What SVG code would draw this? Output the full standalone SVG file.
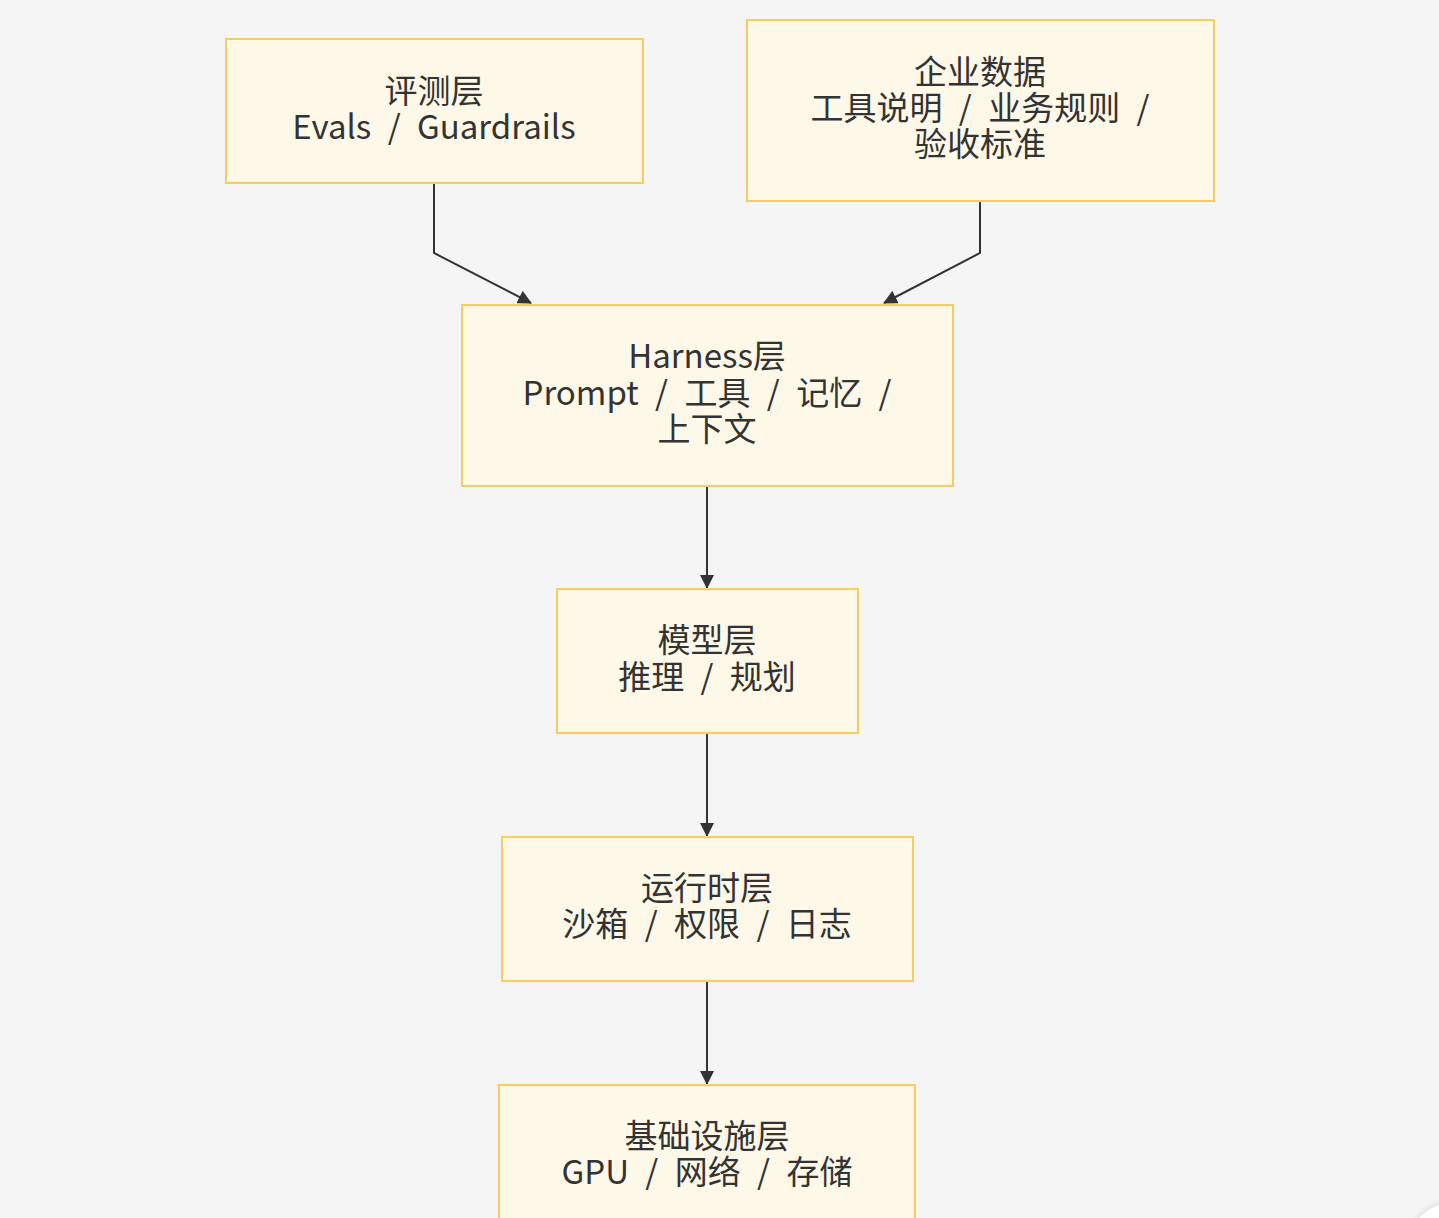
<svg xmlns="http://www.w3.org/2000/svg" width="1439" height="1218" viewBox="0 0 1439 1218">
<defs>
<style>
.node rect{fill:#fef8e8;stroke:#f6cd5e;stroke-width:2}
.node text{font-family:"Noto Sans CJK SC","Noto Sans",sans-serif;font-size:33px;word-spacing:9px;fill:#333;text-anchor:middle;dominant-baseline:central}
.edge{fill:none;stroke:#333;stroke-width:2}
</style>
<marker id="arr" viewBox="0 0 14 14" refX="13" refY="7" markerWidth="14" markerHeight="14" markerUnits="userSpaceOnUse" orient="auto">
<path d="M0,0 L14,7 L0,14 Z" fill="#333"/>
</marker>
<filter id="sh" x="-50%" y="-50%" width="200%" height="200%"><feDropShadow dx="0" dy="0" stdDeviation="3" flood-color="#000" flood-opacity="0.15"/></filter>
</defs>
<rect width="1439" height="1218" fill="#f5f5f5"/>
<g id="connectors">
<path class="edge" d="M434,183 V253 L531,303" marker-end="url(#arr)"/>
<path class="edge" d="M980,201 V253 L884,303" marker-end="url(#arr)"/>
<path class="edge" d="M707,486 V588" marker-end="url(#arr)"/>
<path class="edge" d="M707,733 V836" marker-end="url(#arr)"/>
<path class="edge" d="M707,981 V1084" marker-end="url(#arr)"/>
</g>
<g id="node-evals" class="node">
<rect x="226" y="39" width="417" height="144"/>
<text x="434" y="89">评测层</text>
<text x="434" y="125">Evals / Guardrails</text>
</g>
<g id="node-data" class="node">
<rect x="747" y="20" width="467" height="181"/>
<text x="980" y="70">企业数据</text>
<text x="980" y="106">工具说明 / 业务规则 /</text>
<text x="980" y="142">验收标准</text>
</g>
<g id="node-harness" class="node">
<rect x="462" y="305" width="491" height="181"/>
<text x="707" y="354">Harness层</text>
<text x="707" y="391">Prompt / 工具 / 记忆 /</text>
<text x="707" y="427">上下文</text>
</g>
<g id="node-model" class="node">
<rect x="557" y="589" width="301" height="144"/>
<text x="707" y="638">模型层</text>
<text x="707" y="675">推理 / 规划</text>
</g>
<g id="node-runtime" class="node">
<rect x="502" y="837" width="411" height="144"/>
<text x="707" y="886">运行时层</text>
<text x="707" y="922">沙箱 / 权限 / 日志</text>
</g>
<g id="node-infra" class="node">
<rect x="499" y="1085" width="416" height="150"/>
<text x="707" y="1134">基础设施层</text>
<text x="707" y="1170">GPU / 网络 / 存储</text>
</g>
<circle cx="1455" cy="1250" r="48" fill="#ffffff" filter="url(#sh)"/>
</svg>
